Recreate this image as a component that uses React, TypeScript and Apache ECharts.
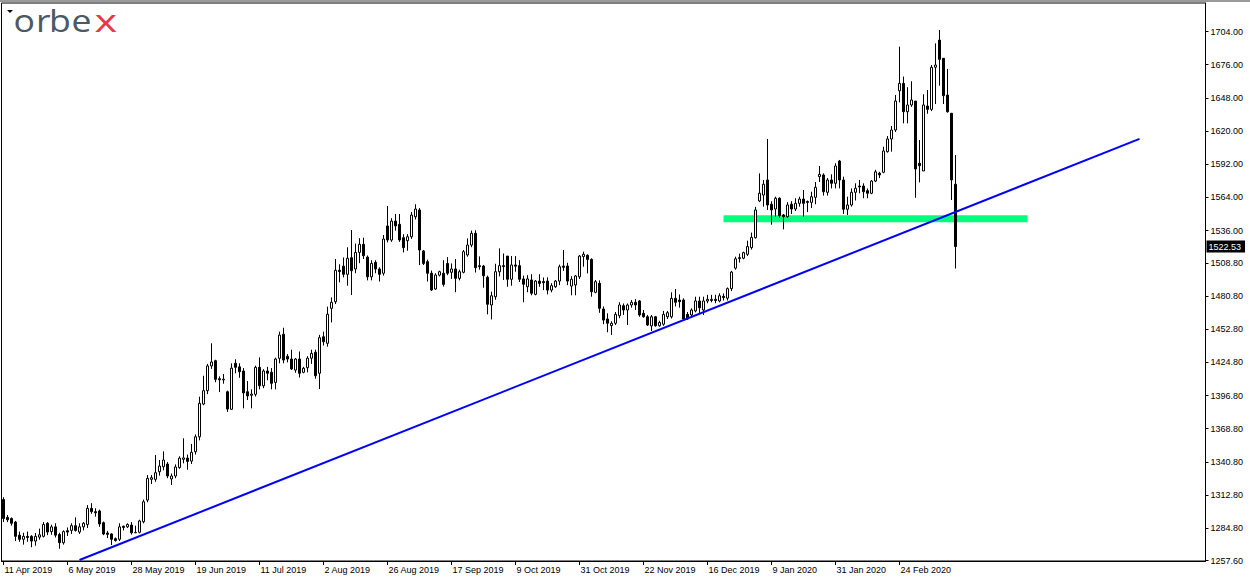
import React, { useEffect, useRef } from "react";
import * as echarts from "echarts";

// ---- Daily OHLC (gold, 11 Apr 2019 .. 13 Mar 2020) ----
const open = [
  1309, 1294, 1293, 1290, 1279, 1275.5, 1278, 1278, 1274, 1277.3,
  1278, 1289, 1282, 1286, 1279.6, 1272.6, 1282.7, 1283, 1287, 1281.6,
  1286, 1288, 1301.6, 1298.8, 1299.4, 1289.5, 1280.8, 1280, 1276, 1275.5,
  1286.5, 1286, 1287.5, 1281, 1281.4, 1290.3, 1308.6, 1326.1, 1326.1, 1332.5,
  1336.7, 1339, 1326.4, 1328.9, 1336, 1343, 1344, 1341.5, 1349.4, 1362,
  1389.6, 1400.9, 1421.8, 1426.2, 1411, 1410, 1400, 1385.2, 1424, 1421,
  1417.5, 1400, 1397, 1397.8, 1420.6, 1405, 1417.5, 1416.4, 1407.9, 1428.2,
  1448.5, 1429.9, 1427.6, 1418.3, 1427.6, 1416.4, 1420.3, 1428.3, 1433.3, 1415.6,
  1446.4, 1440.9, 1470.4, 1476, 1502.5, 1506, 1499.1, 1513.1, 1503.6, 1517.6,
  1524.4, 1513.6, 1497, 1509.2, 1503.6, 1500, 1539.9, 1528, 1544, 1541.3,
  1530, 1527.5, 1530.8, 1547.7, 1553.4, 1518.8, 1509.8, 1500, 1486.7, 1498.4,
  1500, 1508.3, 1500.8, 1503.6, 1495.7, 1500.8, 1515.4, 1523.8, 1533.7, 1506.4,
  1506.1, 1496.6, 1473.2, 1480.2, 1501.3, 1506.4, 1514.5, 1494.9, 1507, 1506.4,
  1495.2, 1488.6, 1494.3, 1482.2, 1493.4, 1493, 1493.4, 1485.8, 1488.6, 1493.4,
  1506.1, 1506.1, 1489.2, 1490.1, 1497, 1514, 1515.1, 1511.7, 1483.9, 1491.5,
  1469.8, 1461.4, 1455.8, 1457.8, 1464.2, 1472.6, 1469, 1473.2, 1475.5, 1476.6,
  1466.2, 1463.3, 1455.6, 1463.3, 1455.7, 1457, 1463.3, 1463.3, 1478.8, 1477.4,
  1477.4, 1465.3, 1464.8, 1468.2, 1476.6, 1469, 1476.6, 1477, 1478, 1476.6,
  1480.5, 1479, 1487, 1504.3, 1512.4, 1512.7, 1516, 1521.6, 1530, 1561,
  1566, 1578.7, 1558.2, 1554.2, 1563.3, 1549.2, 1547.7, 1558.2, 1554.2, 1559,
  1562.6, 1560.5, 1559.8, 1564.1, 1581.5, 1582.9, 1568.3, 1578.7, 1575.9, 1594.7,
  1578.7, 1554, 1557.6, 1568.3, 1573.6, 1573.6, 1569.7, 1567.5, 1577.8, 1584.4,
  1585.2, 1602.6, 1613.3, 1620.9, 1654, 1660.2, 1636.3, 1642, 1645.3, 1592.8,
  1586.3, 1641.1, 1638.3, 1673.8, 1696.8, 1681.4, 1650.4, 1635, 1575.1,
];
const close = [
  1293, 1292, 1289, 1278, 1275.5, 1278, 1277, 1274, 1278, 1279.3,
  1288, 1281.6, 1286, 1279, 1272.6, 1282, 1281.6, 1287, 1283, 1286,
  1289, 1301.6, 1298.8, 1297.9, 1288.4, 1280, 1279.7, 1275.5, 1274.5, 1286,
  1285.5, 1288, 1281, 1281.2, 1291, 1307.2, 1326.9, 1327.5, 1331.7, 1337.3,
  1342.4, 1328.9, 1328.9, 1336.5, 1344, 1344.2, 1341.2, 1348.9, 1362, 1390.2,
  1400.9, 1421.8, 1425.1, 1410.5, 1410.2, 1410.6, 1385.4, 1419.9, 1420.6, 1416.9,
  1399, 1396.5, 1398, 1420.6, 1405.1, 1417.5, 1415.6, 1407.1, 1427.6, 1447.8,
  1426.8, 1427.6, 1419.2, 1427.6, 1415.6, 1419.8, 1428.3, 1432.4, 1413.5, 1445.6,
  1442.2, 1465.4, 1475.5, 1502.5, 1501.5, 1499.1, 1512.6, 1502.1, 1517.6, 1524.4,
  1514.8, 1497, 1508.3, 1503.6, 1499.1, 1528.9, 1528.1, 1544, 1540, 1528.1,
  1521.6, 1530.8, 1549.1, 1554.2, 1519.6, 1508.3, 1500, 1485.9, 1498.5, 1501.3,
  1490.6, 1500, 1503.6, 1495.7, 1501.3, 1518.2, 1523.8, 1533.7, 1504.7, 1505.6,
  1497.9, 1473.8, 1481, 1501.3, 1506.4, 1505.6, 1494.9, 1507, 1506, 1494.9,
  1490.7, 1495.2, 1483.1, 1493.4, 1491.4, 1492, 1485.8, 1489.5, 1493.4, 1505.5,
  1505, 1493.4, 1494.9, 1497.7, 1514.5, 1516, 1511.7, 1484.4, 1492.9, 1470.4,
  1460.5, 1457.8, 1457.8, 1465.3, 1473.2, 1469, 1473.2, 1475.5, 1473.2, 1464.8,
  1463.3, 1456.3, 1463.3, 1455.7, 1458.4, 1465.3, 1466.7, 1478.8, 1475.5, 1476,
  1461.4, 1461.4, 1469, 1476.6, 1470.9, 1476.6, 1478, 1478, 1477, 1481,
  1479.5, 1487, 1501, 1512.2, 1513.2, 1517.4, 1522.5, 1530.3, 1553.4, 1567.5,
  1575.1, 1557.6, 1553.4, 1563.3, 1548.7, 1547.7, 1557.6, 1554.2, 1559, 1562.6,
  1559, 1559.8, 1564.6, 1572.5, 1583.5, 1568.8, 1578.7, 1575.9, 1590.5, 1578.7,
  1554, 1557.6, 1568.3, 1571.7, 1572.8, 1568.8, 1567.5, 1577.8, 1585.6, 1583,
  1603.2, 1613.3, 1620.9, 1645.3, 1660.2, 1636.3, 1642, 1646.2, 1588, 1590.8,
  1642, 1638.3, 1673.8, 1675.7, 1680.5, 1649.8, 1636.3, 1578.7, 1522.53,
];
const high = [
  1311, 1296, 1294, 1291, 1282, 1281, 1282, 1279, 1280.8, 1284.5,
  1290, 1290, 1287.8, 1289, 1281, 1283, 1285.5, 1289, 1294, 1289,
  1290, 1304.4, 1306, 1301.7, 1300.5, 1290.5, 1282.6, 1280.5, 1277, 1289,
  1287, 1289, 1290, 1287, 1292, 1309, 1329.7, 1329.7, 1346.6, 1342.4,
  1349.7, 1340.7, 1331, 1338.7, 1345.5, 1360.7, 1347, 1356, 1364, 1395.8,
  1413.5, 1423.5, 1440.9, 1427, 1413, 1415, 1401, 1424, 1427.4, 1424,
  1420, 1409, 1402, 1422, 1429, 1419, 1421, 1420, 1428.8, 1450.7,
  1454, 1431.8, 1435.5, 1428.5, 1434, 1421, 1430, 1435.5, 1435.5, 1448,
  1450.7, 1471.8, 1479.6, 1512, 1507.6, 1513.3, 1521.9, 1536.5, 1525, 1529.6,
  1530, 1515, 1511, 1511, 1505, 1532.3, 1556.7, 1546.5, 1550, 1550,
  1533, 1533, 1551.7, 1558.2, 1555, 1519.6, 1511.5, 1502.3, 1500, 1502.2,
  1511, 1513.6, 1508.3, 1512, 1503, 1519.6, 1529.4, 1536, 1536.3, 1514.2,
  1507, 1498, 1484.5, 1508, 1521, 1516.7, 1514.5, 1514.5, 1514.5, 1511,
  1498, 1498.4, 1499.2, 1494.3, 1499.2, 1496.4, 1496.6, 1491.6, 1494.3, 1507.3,
  1519.6, 1508.8, 1497.5, 1498.5, 1515.4, 1518.2, 1516, 1512.6, 1494.3, 1494,
  1472, 1466.2, 1459.5, 1467.3, 1475.5, 1474.5, 1474.5, 1477.4, 1478.2, 1477.4,
  1469, 1464.8, 1464.8, 1463.8, 1459.9, 1468.2, 1468.2, 1483.9, 1486.7, 1482.1,
  1478.8, 1467.3, 1470.4, 1480.2, 1480.2, 1480.2, 1481.8, 1481.8, 1481.8, 1483.1,
  1483, 1488, 1502, 1514, 1516.6, 1518.2, 1527.5, 1534.3, 1556, 1584.3,
  1578.7, 1613.3, 1560.8, 1564.6, 1564.1, 1550, 1560, 1560.8, 1563.3, 1564.6,
  1570.2, 1561.4, 1568.8, 1577, 1590.5, 1584.3, 1580.3, 1583.5, 1592.8, 1595.6,
  1581.5, 1564.6, 1571.6, 1575.9, 1578.7, 1575.9, 1571.6, 1578.7, 1587.3, 1585.6,
  1606.8, 1615.8, 1624.3, 1650.4, 1691.2, 1666, 1657, 1662, 1645.3, 1612.4,
  1651, 1654.6, 1675.7, 1694, 1705.3, 1681.4, 1672.4, 1635, 1599.8,
];
const low = [
  1290, 1290, 1287, 1274, 1273.4, 1271, 1273.4, 1268.8, 1270.1, 1275.2,
  1277, 1279, 1279.3, 1277, 1267.5, 1271, 1278.3, 1280, 1282, 1280,
  1283, 1285, 1297, 1294.6, 1286, 1279, 1276.5, 1270.7, 1273.5, 1274,
  1283, 1285, 1279.5, 1280.8, 1280.5, 1289, 1306.7, 1322.1, 1324, 1329.2,
  1333.7, 1327, 1321.3, 1327, 1335, 1339.6, 1334.2, 1339, 1347, 1359,
  1388.6, 1398, 1419.3, 1408, 1399.7, 1406.8, 1383, 1384.6, 1415.6, 1411.8,
  1386, 1393, 1386, 1396, 1402, 1403, 1409.7, 1402, 1402, 1424,
  1424, 1424.8, 1418.4, 1416, 1412, 1415.6, 1416.4, 1423.5, 1411, 1402.3,
  1439, 1438, 1458.5, 1474, 1492.3, 1496.5, 1489.5, 1481.6, 1500, 1508.5,
  1512, 1494, 1494, 1500, 1493, 1498, 1526, 1526.5, 1536, 1526.5,
  1517.6, 1519, 1529, 1545.4, 1506.9, 1506.9, 1493, 1485, 1485.9, 1497.3,
  1488.7, 1498.4, 1495.2, 1484, 1494, 1499.9, 1514, 1522, 1500.6, 1503,
  1487.8, 1465.3, 1461, 1477.6, 1497.4, 1494.3, 1488.6, 1489.5, 1501.3, 1492.6,
  1475.5, 1484, 1481.4, 1481.4, 1488.6, 1485.8, 1482.2, 1483.9, 1487.7, 1490,
  1502, 1490, 1481.4, 1481.4, 1495.2, 1505.5, 1499.9, 1480.2, 1483.1, 1466.6,
  1457, 1450.2, 1447.9, 1456.3, 1462, 1464.8, 1456.3, 1471, 1469, 1463.3,
  1462.5, 1455.6, 1451.3, 1454.9, 1454.9, 1455.7, 1461.4, 1461.8, 1472, 1470.9,
  1460.5, 1460.6, 1463.3, 1467, 1466.2, 1464.8, 1474.7, 1475.5, 1474.7, 1475.5,
  1477, 1477, 1485, 1503, 1509, 1511.8, 1514.6, 1520, 1529.2, 1560,
  1556.2, 1553.4, 1541, 1547.7, 1546.8, 1537, 1546.8, 1550, 1552.5, 1556.2,
  1547.7, 1551.6, 1555, 1558.2, 1577, 1565.5, 1565.5, 1571.6, 1571.6, 1571.6,
  1550, 1549.2, 1556.2, 1561.4, 1567.5, 1563.3, 1563.3, 1566.7, 1576.9, 1580.3,
  1584.4, 1601.8, 1602.6, 1619.2, 1644.2, 1626.5, 1626.5, 1640.4, 1563.7, 1576.7,
  1586.3, 1634.6, 1636.8, 1642.8, 1658.3, 1642.8, 1635.5, 1561.8, 1504,
];

// ---- axis / drawing values ----
const yTickValues = [
  1257.6, 1284.8, 1312.8, 1340.8, 1368.8, 1396.8, 1424.8, 1452.8, 1480.8,
  1508.8, 1536, 1564, 1592, 1620, 1648, 1676, 1704,
];
const yMin = 1257.18;
const yMax = 1728.05;
const trendLine = [
  [19, 1258.0],
  [284, 1613.4],
];
const supportLine = [
  [180, 1546.0],
  [256, 1546.0],
];
const lastPrice = 1522.53;
const firstDay = "2019-04-11";
const holidays = ["2019-04-19", "2019-12-25", "2020-01-01"];
const totalSlots = 301;
const labelEvery = 16;
const MONTHS = ["Jan", "Feb", "Mar", "Apr", "May", "Jun", "Jul", "Aug", "Sep", "Oct", "Nov", "Dec"];

function tradingDays(start: string, count: number, skip: string[]): string[] {
  const out: string[] = [];
  const d = new Date(start + "T00:00:00Z");
  while (out.length < count) {
    const iso = d.toISOString().slice(0, 10);
    const wd = d.getUTCDay();
    if (wd !== 0 && wd !== 6 && skip.indexOf(iso) < 0) {
      out.push(`${d.getUTCDate()} ${MONTHS[d.getUTCMonth()]} ${d.getUTCFullYear()}`);
    }
    d.setUTCDate(d.getUTCDate() + 1);
  }
  return out;
}

const AXIS_FONT = '"Liberation Sans", Arial, sans-serif';

export default function App() {
  const ref = useRef<HTMLDivElement>(null);

  useEffect(() => {
    if (!ref.current) return;
    const chart = echarts.init(ref.current, undefined, { renderer: "svg" });
    const n = open.length;
    const dates = tradingDays(firstDay, n, holidays);
    const categories = dates.slice();
    for (let i = n; i < totalSlots; i++) categories.push("_" + i);
    const candles = open.map((o, i) => [o, close[i], low[i], high[i]]);
    const showIdx = (idx: number) => idx % labelEvery === 0 && idx < n;

    const logoLetters = [
      { t: "o", x: 13.5, s: 1.15, c: "#4b5866" },
      { t: "r", x: 36, s: 1.15, c: "#4b5866" },
      { t: "b", x: 49, s: 1.15, c: "#4b5866" },
      { t: "e", x: 71.5, s: 1.15, c: "#4b5866" },
      { t: "x", x: 94.5, s: 1.4, c: "#e63946" },
    ];

    chart.setOption({
      animation: false,
      backgroundColor: "#ffffff",
      grid: {
        left: 1.5,
        top: 3,
        right: 44.5,
        bottom: 20,
        show: true,
        borderColor: "#000",
        borderWidth: 1,
        containLabel: false,
      },
      xAxis: {
        type: "category",
        data: categories,
        boundaryGap: true,
        axisLine: { show: true, lineStyle: { color: "#000", width: 1 } },
        axisTick: {
          show: true,
          alignWithLabel: true,
          interval: (idx: number) => showIdx(idx),
          length: 4,
          lineStyle: { color: "#000" },
        },
        axisLabel: {
          show: true,
          interval: (idx: number) => showIdx(idx),
          align: "left",
          margin: 4,
          padding: [0, 0, 0, 1],
          fontSize: 9,
          fontFamily: AXIS_FONT,
          color: "#000",
        },
        splitLine: { show: false },
      },
      yAxis: {
        type: "value",
        position: "right",
        min: yMin,
        max: yMax,
        scale: true,
        splitLine: { show: false },
        axisLine: { show: true, lineStyle: { color: "#000", width: 1 } },
        axisTick: {
          show: true,
          length: 3,
          customValues: yTickValues,
          lineStyle: { color: "#000" },
        },
        axisLabel: {
          show: true,
          customValues: yTickValues,
          formatter: (v: number) => v.toFixed(2),
          margin: 5,
          fontSize: 9,
          fontFamily: AXIS_FONT,
          color: "#000",
        },
      },
      series: [
        {
          type: "line",
          name: "support",
          data: supportLine,
          symbol: "none",
          showSymbol: false,
          z: 1,
          lineStyle: { color: "#00ff7f", width: 7, cap: "butt" },
          silent: true,
        },
        {
          type: "candlestick",
          name: "XAUUSD",
          data: candles,
          barWidth: 2,
          z: 2,
          itemStyle: {
            color: "#ffffff",
            color0: "#000000",
            borderColor: "#000000",
            borderColor0: "#000000",
            borderColorDoji: "#000000",
            borderWidth: 1,
          },
          markLine: {
            silent: true,
            symbol: ["none", "none"],
            data: [{ yAxis: lastPrice }],
            lineStyle: { color: "rgba(0,0,0,0)", width: 1, type: "solid" },
            label: {
              show: true,
              position: "end",
              formatter: () => lastPrice.toFixed(2),
              color: "#ffffff",
              backgroundColor: "#000000",
              padding: [2, 4, 1, 2],
              distance: 1,
              fontSize: 9,
              fontFamily: AXIS_FONT,
            },
          },
        },
        {
          type: "line",
          name: "trend",
          data: trendLine,
          symbol: "none",
          showSymbol: false,
          z: 3,
          lineStyle: { color: "#0000ff", width: 2 },
          silent: true,
        },
      ],
      graphic: [
        { type: "rect", left: 0, top: 0, shape: { width: 1250, height: 2 }, style: { fill: "#9a9a9a" }, silent: true },
        {
          type: "polygon",
          shape: { points: [[7, 10], [13, 10], [10, 13]] },
          style: { fill: "#000" },
          silent: true,
        },
        ...logoLetters.map((l) => ({
          type: "text",
          x: l.x,
          y: 20,
          scaleX: l.s,
          style: {
            text: l.t,
            x: 0,
            y: 0,
            fill: l.c,
            fontSize: 31,
            fontWeight: 500,
            fontFamily: '"Open Sans", "Noto Sans", sans-serif',
            verticalAlign: "middle",
            align: "left",
          },
          silent: true,
        })),
      ],
    });

    return () => {
      chart.dispose();
    };
  }, []);

  return (
    <div
      ref={ref}
      style={{ position: "fixed", left: 0, top: 0, width: 1250, height: 581, background: "#fff" }}
    />
  );
}
